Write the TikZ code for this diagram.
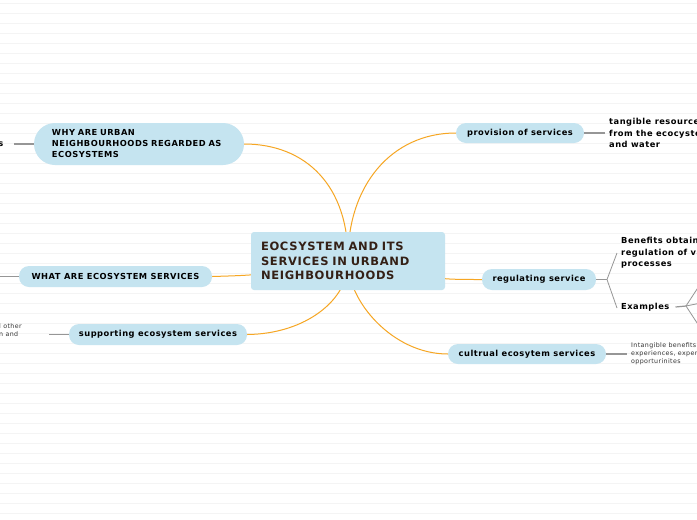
\documentclass[tikz,border=0pt]{standalone}
\usepackage{fontspec}
\setmainfont{DejaVu Sans}
\newfontfamily\mapfont[LetterSpace=6]{DejaVu Sans}
\usetikzlibrary{positioning}
\pgfdeclarelayer{background}
\pgfsetlayers{background,main}
\definecolor{topicblue}{RGB}{197,228,240}
\definecolor{branchorange}{RGB}{246,166,35}
\definecolor{rootbrown}{RGB}{52,32,22}
\definecolor{leafgray}{RGB}{150,150,150}
\definecolor{ruleline}{RGB}{244,244,244}
\begin{document}
\begin{tikzpicture}[
  x=1pt,y=-1pt,
  topic/.style={fill=topicblue, inner sep=0pt, font=\mapfont\bfseries\fontsize{8.3}{11}\selectfont},
  pill/.style={topic, rounded corners=10pt, minimum height=21pt},
  rootbox/.style={fill=topicblue, rounded corners=3pt, inner sep=0pt,
                  minimum width=194pt, minimum height=58pt,
                  text=rootbrown, align=left, text width=174pt,
                  font=\mapfont\bfseries\fontsize{11.5}{14.5}\selectfont},
  leaf/.style={inner sep=0pt, align=left, anchor=west,
               font=\mapfont\bfseries\fontsize{8.3}{11.5}\selectfont},
  note/.style={inner sep=0pt, align=left, text=black!80,
               font=\mapfont\fontsize{6.3}{8}\selectfont},
  branch/.style={draw=branchorange, line width=1pt},
  twig/.style={draw=leafgray, line width=1.2pt}
]
  \useasboundingbox (0,0) rectangle (697,520);
  \clip (0,0) rectangle (697,520);

  % ruled paper
  \begin{pgfonlayer}{background}
    \fill[white] (0,0) rectangle (697,520);
    \foreach \y in {0,...,51}
      \draw[ruleline, line width=0.8pt] (0,3.5+10*\y) -- (697,3.5+10*\y);
  \end{pgfonlayer}

  % central topic
  \node[rootbox] (root) at (348,261)
    {EOCSYSTEM AND ITS\\SERVICES IN URBAND\\NEIGHBOURHOODS};

  % left side
  \node[topic, rounded corners=21pt, minimum width=210pt, minimum height=42pt,
        align=left, text width=174pt] (why) at (139,144)
    {WHY ARE URBAN\\NEIGHBOURHOODS REGARDED AS\\ECOSYSTEMS};
  \node[pill, minimum width=193pt] (what) at (115.5,276.5) {WHAT ARE ECOSYSTEM SERVICES};
  \node[pill, minimum width=178pt] (supp) at (158,334.5) {supporting ecosystem services};

  % right side
  \node[pill, minimum width=128pt, minimum height=20pt] (prov) at (520,133) {provision of services};
  \node[pill, minimum width=114pt] (regu) at (539,279.5) {regulating service};
  \node[pill, minimum width=158pt, minimum height=20pt] (cult) at (527,354) {cultrual ecosytem services};

  % leaves
  \node[leaf] (tang) at (609,133) {tangible resource\\from the ecocyste\\and water};
  \node[leaf] (bene) at (621,253) {Benefits obtain\\regulation of va\\processes};
  \node[leaf] (exam) at (621,307) {Examples};
  \node[note, anchor=west] (intang) at (631,354)
    {Intangible benefits o\\experiences, experie\\opporturinites};
  \node[leaf, anchor=east] (whyleaf) at (3.5,144) {s};
  \node[note, anchor=west] (suppleaf) at (-1,330) {l other\\n and};

  \coordinate (whyend) at (14,144);
  \coordinate (whatend) at (-1,276.5);
  \coordinate (suppend) at (49,334.5);
  \coordinate (regufork) at (607,279.5);
  \coordinate (examfork) at (686,306);
  \coordinate (examup) at (701,283);
  \coordinate (exammid) at (701,303);
  \coordinate (examdown) at (701,329);

  % branches
  \begin{pgfonlayer}{background}
    \draw[branch] (why.east) .. controls (305,144) and (349,185) .. (root.center);
    \draw[branch] (prov.west) .. controls (392,133) and (347,185) .. (root.center);
    \draw[branch] (what.east) .. controls (262,275) .. (root.center);
    \draw[branch] (regu.west) .. controls (436,279.5) .. (root.center);
    \draw[branch] (supp.east) .. controls (305,334) and (349,300) .. (root.center);
    \draw[branch] (cult.west) .. controls (392,354) and (347,300) .. (root.center);
  \end{pgfonlayer}

  % twigs
  \draw[twig] (prov.east) -- ([xshift=-4pt]tang.west);
  \draw[twig] (regu.east) -- (regufork);
  \draw[twig, line width=0.8pt] (regufork) -- ([xshift=-4pt]bene.west);
  \draw[twig, line width=0.8pt] (regufork) -- ([xshift=-4pt,yshift=-1pt]exam.west);
  \draw[twig] ([xshift=6pt]exam.east) -- (examfork);
  \draw[twig, line width=0.8pt] (examfork) -- (examup);
  \draw[twig, line width=0.8pt] (examfork) -- (exammid);
  \draw[twig, line width=0.8pt] (examfork) -- (examdown);
  \draw[twig] (cult.east) -- ([xshift=-4pt]intang.west);
  \draw[twig] (why.west) -- (whyend);
  \draw[twig] (what.west) -- (whatend);
  \draw[twig] (supp.west) -- (suppend);
\end{tikzpicture}
\end{document}
